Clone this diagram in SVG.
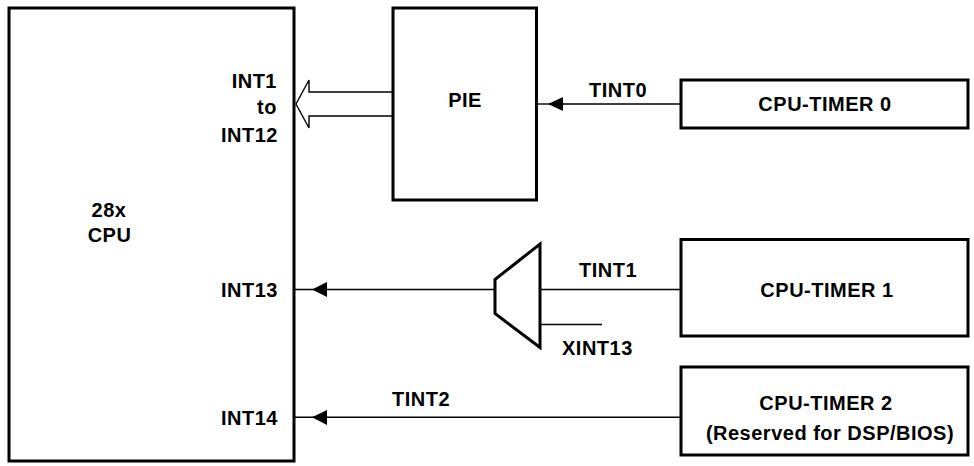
<svg xmlns="http://www.w3.org/2000/svg" width="974" height="466" viewBox="0 0 974 466">
<style>
.box{fill:#fff;stroke:#000;stroke-width:3}
.ln{fill:none;stroke:#000;stroke-width:1.4}
.mux{fill:#fff;stroke:#000;stroke-width:3;stroke-linejoin:miter}
text{font-family:"Liberation Sans",Arial,Helvetica,sans-serif;font-weight:bold;font-size:20px;letter-spacing:0.5px;fill:#000}
.c{text-anchor:middle}
.e{text-anchor:end}
</style>
<defs>
<marker id="ah" viewBox="0 0 15 15" refX="0" refY="7.5" markerWidth="15" markerHeight="15" markerUnits="userSpaceOnUse" orient="auto">
<path d="M0,7.5 L15,0 L15,15 Z" fill="#000"/>
</marker>
</defs>
<rect width="974" height="466" fill="#fff"/>
<g id="cpu">
<rect class="box" x="9" y="8" width="285" height="453"/>
<text class="c" x="109" y="217">28x</text>
<text class="c" x="109.5" y="242">CPU</text>
<text class="e" x="277" y="87.5">INT1</text>
<text class="e" x="277" y="114">to</text>
<text class="e" x="278" y="141.5">INT12</text>
<text class="e" x="278" y="297">INT13</text>
<text class="e" x="278" y="425">INT14</text>
</g>
<g id="pie">
<rect class="box" x="393" y="8" width="143.5" height="192"/>
<text class="c" x="465" y="107">PIE</text>
</g>
<g id="timer0">
<rect class="box" x="681" y="80" width="287" height="48"/>
<text class="c" x="825" y="111">CPU-TIMER 0</text>
</g>
<g id="timer1">
<rect class="box" x="681" y="239.5" width="287" height="96.5"/>
<text class="c" x="827" y="297">CPU-TIMER 1</text>
</g>
<g id="timer2">
<rect class="box" x="681" y="367" width="287" height="88"/>
<text class="c" x="826" y="410">CPU-TIMER 2</text>
<text class="c" x="830" y="440">(Reserved for DSP/BIOS)</text>
</g>
<g id="mux">
<path class="mux" d="M495,279.5 L540,244 L540,347.5 L495,313.5 Z"/>
</g>
<g id="connectors">
<path class="ln" d="M393,92 H309 V80 L296,104 L309,128 V116 H393"/>
<line class="ln" x1="680" y1="104" x2="563" y2="104"/>
<path d="M548,104 L563,97 L563,111 Z" fill="#000"/>
<line class="ln" x1="536" y1="104" x2="550" y2="104"/>
<line class="ln" x1="680" y1="289.5" x2="540" y2="289.5"/>
<line class="ln" x1="540" y1="324.5" x2="602" y2="324.5"/>
<line class="ln" x1="495" y1="289.5" x2="294" y2="289.5"/>
<path d="M312,289.5 L327,282 L327,297 Z" fill="#000"/>
<line class="ln" x1="680" y1="417.3" x2="294" y2="417.3"/>
<path d="M312,417.3 L327,410 L327,425 Z" fill="#000"/>
<text x="589" y="96.5">TINT0</text>
<text x="579" y="277">TINT1</text>
<text x="562" y="355">XINT13</text>
<text x="392" y="406">TINT2</text>
</g>
</svg>
